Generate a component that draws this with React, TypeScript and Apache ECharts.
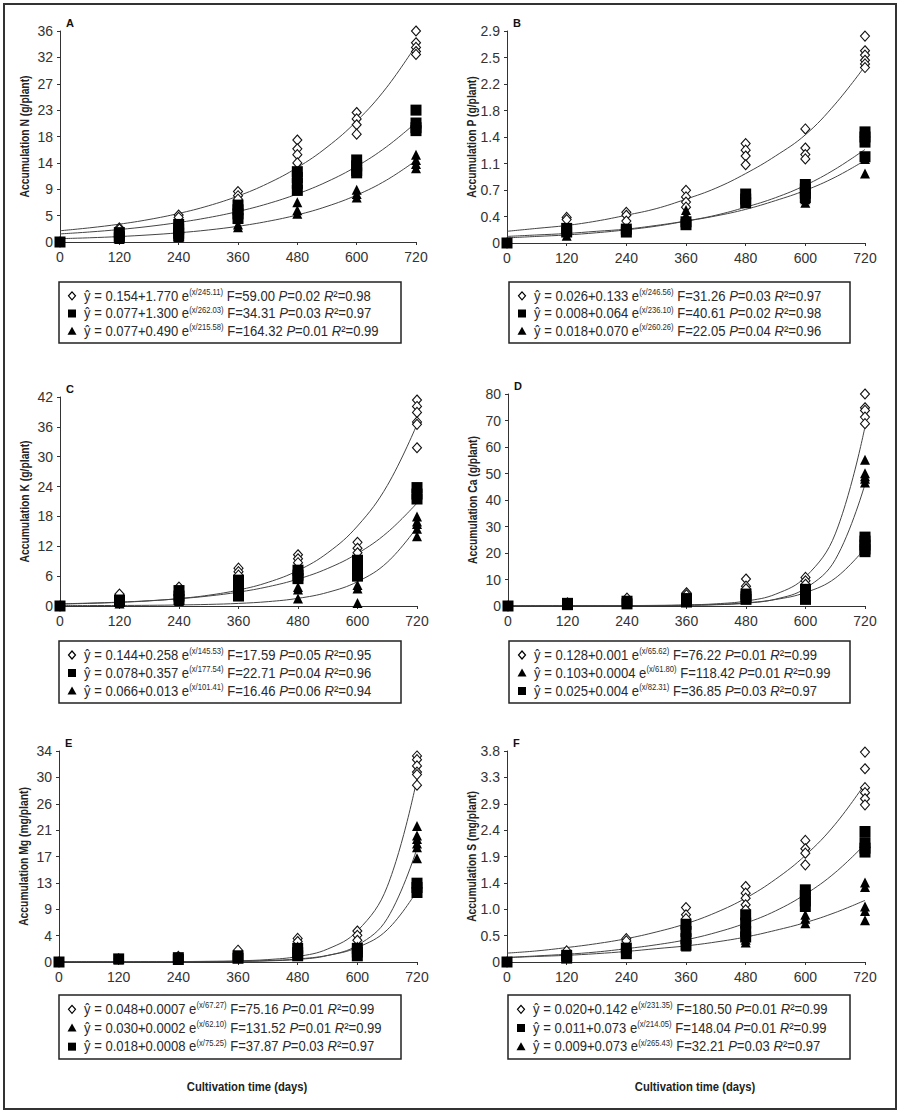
import React, { useEffect, useRef } from 'react';
import * as echarts from 'echarts';

const days = [0, 120, 240, 360, 480, 600, 720];
const fitDays = [0, 60, 120, 180, 240, 300, 360, 420, 480, 540, 600, 660, 720];

// ---- Panel A: N (g/plant)
const aTicks = ['0', '5', '9', '14', '18', '23', '27', '32', '36'];
const aDiamond = [[0], [2.4, 2.2], [4.6, 4.2], [8.6, 7.9, 7.3], [17.4, 15.9, 14.9, 13.5], [22.1, 21, 20, 18.4], [36, 34, 33.2, 32.5, 32]];
const aSquare = [[0], [1.6, 1, 0.7], [3, 2.2, 1.5, 1], [6.3, 5.5, 4.8, 4], [12, 11, 10, 8.8], [14, 13, 12.2, 11.8], [22.5, 20.3, 19.5, 19]];
const aTriangle = [[0], [0.5], [1, 0.8], [3, 2.5], [6.8, 5.4, 4.8], [8.9, 8.2, 7.6], [14.9, 14, 13.3, 12.6]];
const aDiamondFit = [1.92, 2.42, 3.04, 3.84, 4.87, 6.17, 7.84, 9.98, 12.7, 16.18, 20.62, 26.3, 33.55];
const aSquareFit = [1.38, 1.71, 2.13, 2.66, 3.33, 4.16, 5.21, 6.53, 8.2, 10.28, 12.91, 16.22, 20.37];
const aTriangleFit = [0.57, 0.72, 0.93, 1.21, 1.57, 2.05, 2.68, 3.52, 4.62, 6.08, 8.0, 10.54, 13.9];
const aLegend = [
  ['diamond', '0.154+1.770', '245.11', '59.00', '0.02', '0.98'],
  ['square', '0.077+1.300', '262.03', '34.31', '0.03', '0.97'],
  ['triangle', '0.077+0.490', '215.58', '164.32', '0.01', '0.99'],
];

// ---- Panel B: P (g/plant)
const bTicks = ['0', '0.4', '0.7', '1.1', '1.4', '1.8', '2.2', '2.5', '2.9'];
const bDiamond = [[0], [0.35, 0.32], [0.42, 0.38, 0.3], [0.72, 0.63, 0.56, 0.49], [1.36, 1.27, 1.19, 1.07], [1.56, 1.3, 1.21, 1.15], [2.83, 2.63, 2.57, 2.5, 2.45, 2.4]];
const bSquare = [[0], [0.2, 0.15], [0.19, 0.15], [0.29, 0.25], [0.67, 0.6, 0.55], [0.8, 0.74, 0.68, 0.62], [1.52, 1.45, 1.38, 1.18]];
const bTriangle = [[0], [0.1], [0.15], [0.45, 0.38], [0.55], [0.6, 0.55], [1.15, 0.95]];
const bDiamondFit = [0.16, 0.2, 0.24, 0.3, 0.38, 0.47, 0.6, 0.75, 0.95, 1.19, 1.48, 1.9, 2.42];
const bSquareFit = [0.07, 0.09, 0.11, 0.14, 0.18, 0.23, 0.3, 0.38, 0.49, 0.62, 0.79, 1.01, 1.28];
const bTriangleFit = [0.09, 0.11, 0.13, 0.16, 0.19, 0.24, 0.3, 0.37, 0.46, 0.58, 0.72, 0.9, 1.13];
const bLegend = [
  ['diamond', '0.026+0.133', '246.56', '31.26', '0.03', '0.97'],
  ['square', '0.008+0.064', '236.10', '40.61', '0.02', '0.98'],
  ['triangle', '0.018+0.070', '260.26', '22.05', '0.04', '0.96'],
];

// ---- Panel C: K (g/plant)
const cTicks = ['0', '6', '12', '18', '24', '30', '36', '42'];
const cDiamond = [[0], [2.4], [3.8], [7.6, 6.9, 6.2], [10.3, 9.5, 8.7], [12.8, 11.6, 10.7], [41.4, 40.1, 38.9, 37, 36.5, 31.8]];
const cSquare = [[0], [1.2, 0.9], [3.1, 2, 1.3], [5.2, 4.2, 3, 2], [7.2, 6.2, 5.5], [9.2, 8, 6.9, 6], [23.8, 22.5, 21.5]];
const cTriangle = [[0], [0.5], [1], [2.5], [3.8, 3.3, 1.5], [4.2, 3.5, 0.6], [18, 17, 16.5, 15.5, 14]];
const cDiamondFit = [0.4, 0.53, 0.73, 1.03, 1.49, 2.17, 3.21, 4.77, 7.13, 10.69, 16.07, 24.2, 36.48];
const cSquareFit = [0.44, 0.58, 0.78, 1.06, 1.46, 2.01, 2.79, 3.88, 5.41, 7.55, 10.56, 14.77, 20.68];
const cTriangleFit = [0.08, 0.09, 0.11, 0.14, 0.21, 0.32, 0.52, 0.88, 1.54, 2.74, 4.89, 8.78, 15.82];
const cLegend = [
  ['diamond', '0.144+0.258', '145.53', '17.59', '0.05', '0.95'],
  ['square', '0.078+0.357', '177.54', '22.71', '0.04', '0.96'],
  ['triangle', '0.066+0.013', '101.41', '16.46', '0.06', '0.94'],
];

// ---- Panel D: Ca (g/plant)
const dTicks = ['0', '10', '20', '30', '40', '50', '60', '70', '80'];
const dDiamond = [[0], [1.2], [3], [5, 4.2], [10.2, 7.5, 6.5], [10.8, 9.5, 8.2], [80, 74.8, 73.8, 71.3, 68.8]];
const dTriangle = [[0], [0.8], [2], [3], [4.5, 3.5], [6.5, 5.5, 4.5], [55.2, 50.1, 49, 48, 46.6]];
const dSquare = [[0], [1, 0.5], [1.8, 0.8], [2.8, 1.5], [4.5, 3.5, 2.5], [6.3, 5, 3.8, 2.5], [26, 24.5, 23, 21.5, 20.5]];
const dDiamondFit = [0.13, 0.13, 0.14, 0.15, 0.17, 0.24, 0.41, 0.83, 1.87, 4.48, 10.98, 27.2, 67.66];
const dTriangleFit = [0.1, 0.1, 0.11, 0.11, 0.12, 0.15, 0.24, 0.46, 1.05, 2.6, 6.69, 17.48, 45.98];
const dSquareFit = [0.03, 0.03, 0.04, 0.06, 0.09, 0.16, 0.3, 0.59, 1.2, 2.46, 5.08, 10.5, 21.74];
const dLegend = [
  ['diamond', '0.128+0.001', '65.62', '76.22', '0.01', '0.99'],
  ['triangle', '0.103+0.0004', '61.80', '118.42', '0.01', '0.99'],
  ['square', '0.025+0.004', '82.31', '36.85', '0.03', '0.97'],
];

// ---- Panel E: Mg (mg/plant)
const eTicks = ['0', '4', '9', '13', '17', '21', '26', '30', '34'];
const eDiamond = [[0], [0.5], [0.9], [1.9], [3.8, 3.3], [5, 4.3, 3.5], [33.2, 32.6, 31.6, 30.6, 30.2, 28.5]];
const eTriangle = [[0], [0.4], [0.8], [1], [2.5], [2.5, 2], [21.9, 20.4, 19.8, 19.1, 18.5, 16.7]];
const eSquare = [[0], [0.5], [0.7, 0.4], [1, 0.6], [2.2, 1.5, 1.0], [2.2, 1.6, 1], [12.7, 12, 11.2]];
const eDiamondFit = [0.05, 0.05, 0.05, 0.06, 0.07, 0.11, 0.19, 0.39, 0.88, 2.08, 5.0, 12.12, 29.51];
const eTriangleFit = [0.03, 0.03, 0.03, 0.03, 0.04, 0.05, 0.09, 0.18, 0.41, 1.04, 2.68, 6.98, 18.3];
const eSquareFit = [0.02, 0.02, 0.02, 0.03, 0.04, 0.06, 0.11, 0.23, 0.49, 1.06, 2.34, 5.17, 11.46];
const eLegend = [
  ['diamond', '0.048+0.0007', '67.27', '75.16', '0.01', '0.99'],
  ['triangle', '0.030+0.0002', '62.10', '131.52', '0.01', '0.99'],
  ['square', '0.018+0.0008', '75.25', '37.87', '0.03', '0.97'],
];

// ---- Panel F: S (mg/plant)
const fTicks = ['0', '0.5', '1.0', '1.4', '1.9', '2.4', '2.9', '3.3', '3.8'];
const fDiamond = [[0], [0.2], [0.42, 0.38], [0.98, 0.85, 0.78], [1.36, 1.24, 1.15, 1.03, 0.94], [2.19, 2.04, 1.96, 1.75], [3.78, 3.48, 3.14, 3.05, 2.94, 2.83]];
const fSquare = [[0], [0.12, 0.07], [0.25, 0.15], [0.68, 0.55, 0.42, 0.3], [0.85, 0.7, 0.55, 0.45], [1.3, 1.2, 1.1, 1.0], [2.35, 2.15, 2.05, 1.98]];
const fTriangle = [[0], [0.08], [0.15], [0.28], [0.4, 0.35], [0.85, 0.78, 0.7], [1.43, 1.35, 1.0, 0.92, 0.75]];
const fDiamondFit = [0.16, 0.2, 0.26, 0.33, 0.42, 0.54, 0.69, 0.89, 1.15, 1.49, 1.92, 2.48, 3.21];
const fSquareFit = [0.08, 0.11, 0.14, 0.18, 0.24, 0.31, 0.4, 0.53, 0.7, 0.92, 1.22, 1.61, 2.12];
const fTriangleFit = [0.08, 0.1, 0.12, 0.15, 0.19, 0.24, 0.29, 0.36, 0.45, 0.57, 0.71, 0.89, 1.11];
const fLegend = [
  ['diamond', '0.020+0.142', '231.35', '180.50', '0.01', '0.99'],
  ['square', '0.011+0.073', '214.05', '148.04', '0.01', '0.99'],
  ['triangle', '0.009+0.073', '265.43', '32.21', '0.03', '0.97'],
];

const xTitle = 'Cultivation time (days)';

const FONT = "'Liberation Sans', Arial, sans-serif";
const NARROW = 0.86;
const LEG_NARROW = 0.9;

const panels = [
  { letter: 'A', g: [60, 31, 356, 211], yMax: 36, yInt: 4.5, ticks: aTicks, name: 'Accumulation N (g/plant)',
    sets: [['diamond', aDiamond, aDiamondFit], ['triangle', aTriangle, aTriangleFit], ['square', aSquare, aSquareFit]],
    box: [59, 282, 342, 61], legend: aLegend },
  { letter: 'B', g: [507, 31, 358, 212], yMax: 2.9, yInt: 0.3625, ticks: bTicks, name: 'Accumulation P (g/plant)',
    sets: [['diamond', bDiamond, bDiamondFit], ['triangle', bTriangle, bTriangleFit], ['square', bSquare, bSquareFit]],
    box: [509, 282, 341, 61], legend: bLegend },
  { letter: 'C', g: [60, 397, 357, 209], yMax: 42, yInt: 6, ticks: cTicks, name: 'Accumulation K (g/plant)',
    sets: [['diamond', cDiamond, cDiamondFit], ['triangle', cTriangle, cTriangleFit], ['square', cSquare, cSquareFit]],
    box: [59, 641, 342, 62], legend: cLegend },
  { letter: 'D', g: [508, 394, 357, 212], yMax: 80, yInt: 10, ticks: dTicks, name: 'Accumulation Ca (g/plant)',
    sets: [['diamond', dDiamond, dDiamondFit], ['triangle', dTriangle, dTriangleFit], ['square', dSquare, dSquareFit]],
    box: [509, 641, 341, 62], legend: dLegend },
  { letter: 'E', g: [59, 751, 358, 211], yMax: 34, yInt: 4.25, ticks: eTicks, name: 'Accumulation Mg (mg/plant)',
    sets: [['diamond', eDiamond, eDiamondFit], ['triangle', eTriangle, eTriangleFit], ['square', eSquare, eSquareFit]],
    box: [59, 995, 342, 64], legend: eLegend },
  { letter: 'F', g: [507, 751, 358, 211], yMax: 3.8, yInt: 0.475, ticks: fTicks, name: 'Accumulation S (mg/plant)',
    sets: [['diamond', fDiamond, fDiamondFit], ['triangle', fTriangle, fTriangleFit], ['square', fSquare, fSquareFit]],
    box: [508, 995, 342, 64], legend: fLegend },
];

const symbolStyle: any = {
  diamond: { symbol: 'diamond', size: [9, 10], item: { color: '#fff', borderColor: '#111', borderWidth: 1.1, opacity: 1 } },
  triangle: { symbol: 'triangle', size: 10, item: { color: '#000', opacity: 1 } },
  square: { symbol: 'rect', size: 11, item: { color: '#000', opacity: 1 } },
};

function legendMarker(kind: string, cx: number, cy: number) {
  if (kind === 'diamond') {
    return { type: 'polygon', shape: { points: [[cx, cy - 4], [cx + 3.5, cy], [cx, cy + 4], [cx - 3.5, cy]] }, style: { fill: '#fff', stroke: '#000', lineWidth: 1.2 } };
  }
  if (kind === 'square') {
    return { type: 'rect', shape: { x: cx - 4, y: cy - 4, width: 8, height: 8 }, style: { fill: '#000' } };
  }
  return { type: 'polygon', shape: { points: [[cx, cy - 4.5], [cx + 4.5, cy + 3.5], [cx - 4.5, cy + 3.5]] }, style: { fill: '#000' } };
}

function buildOption() {
  const grid: any[] = [];
  const xAxis: any[] = [];
  const yAxis: any[] = [];
  const series: any[] = [];
  const graphic: any[] = [];

  graphic.push({ type: 'rect', shape: { x: 4, y: 4, width: 892, height: 1105 }, style: { fill: 'none', stroke: '#333', lineWidth: 2 }, z: 0 });

  panels.forEach((p, i) => {
    const [left, top, width, height] = p.g;
    grid.push({ left, top, width, height, containLabel: false });
    xAxis.push({
      type: 'value', gridIndex: i, min: 0, max: 720, interval: 120,
      axisLine: { show: true, onZero: false, lineStyle: { color: '#333', width: 1 } },
      axisTick: { show: true, length: 3, lineStyle: { color: '#333' } },
      splitLine: { show: false },
      axisLabel: { fontSize: 14, color: '#333', fontFamily: FONT, margin: 8 },
    });
    yAxis.push({
      type: 'value', gridIndex: i, min: 0, max: p.yMax, interval: p.yInt,
      axisLine: { show: true, onZero: false, lineStyle: { color: '#333', width: 1 } },
      axisTick: { show: true, length: 3, lineStyle: { color: '#333' } },
      splitLine: { show: false },
      axisLabel: {
        fontSize: 14, color: '#333', fontFamily: FONT, margin: 7,
        formatter: (v: number) => { const k = Math.round(v / p.yInt); return p.ticks[k] ?? ''; },
      },
    });

    p.sets.forEach((s: any) => {
      const fit = s[2] as number[];
      series.push({
        type: 'line', xAxisIndex: i, yAxisIndex: i, smooth: 0.4, showSymbol: false, silent: true,
        data: fitDays.map((d, k) => [d, fit[k]]),
        lineStyle: { color: '#444', width: 1 }, z: 1,
      });
    });
    p.sets.forEach((s: any) => {
      const st = symbolStyle[s[0]];
      const pts: number[][] = [];
      (s[1] as number[][]).forEach((reps, k) => reps.forEach((v) => pts.push([days[k], v])));
      series.push({
        type: 'scatter', xAxisIndex: i, yAxisIndex: i, symbol: st.symbol, symbolSize: st.size,
        data: pts, itemStyle: st.item, silent: true, z: 3,
      });
    });

    graphic.push({
      type: 'text', x: left - 35, y: top + height / 2, rotation: Math.PI / 2, scaleX: NARROW,
      style: { text: p.name, fontSize: 12, fontWeight: 'bold', fontFamily: FONT, fill: '#222', textAlign: 'center', textVerticalAlign: 'middle' },
    });

    graphic.push({ type: 'text', x: left + 6, y: top - 8, style: { text: p.letter, fontSize: 11, fontWeight: 'bold', fontFamily: FONT, fill: '#111', textAlign: 'left', textVerticalAlign: 'middle' } });

    const [bx, by, bw, bh] = p.box;
    graphic.push({ type: 'rect', shape: { x: bx, y: by, width: bw, height: bh }, style: { fill: '#fff', stroke: '#222', lineWidth: 1.5 } });
    const step = (bh - 8) / 3;
    p.legend.forEach((row: string[], r: number) => {
      const cy = by + 4 + step * (r + 0.5) + 1;
      graphic.push(legendMarker(row[0], bx + 13, cy));
      graphic.push({
        type: 'text', x: bx + 25, y: cy, scaleX: LEG_NARROW,
        style: {
          text: `{t|ŷ = ${row[1]} e}{s|(x/${row[2]})}{t| F=${row[3]} }{i|P}{t|=${row[4]} }{i|R}{t|²=${row[5]}}`,
          textAlign: 'left', textVerticalAlign: 'middle',
          rich: {
            t: { fontSize: 14.5, fontFamily: FONT, fill: '#2a2a2a', lineHeight: 16 },
            i: { fontSize: 14.5, fontFamily: FONT, fontStyle: 'italic', fill: '#2a2a2a', lineHeight: 16 },
            s: { fontSize: 8.5, fontFamily: FONT, fill: '#2a2a2a', verticalAlign: 'top', lineHeight: 10 },
          },
        },
      });
    });
  });

  graphic.push({ type: 'text', x: 247, y: 1087, scaleX: 0.9, style: { text: xTitle, fontSize: 12.5, fontWeight: 'bold', fontFamily: FONT, fill: '#222', textAlign: 'center', textVerticalAlign: 'middle' } });
  graphic.push({ type: 'text', x: 695, y: 1087, scaleX: 0.9, style: { text: xTitle, fontSize: 12.5, fontWeight: 'bold', fontFamily: FONT, fill: '#222', textAlign: 'center', textVerticalAlign: 'middle' } });

  return { animation: false, backgroundColor: '#fff', grid, xAxis, yAxis, series, graphic };
}

export default function App() {
  const ref = useRef<HTMLDivElement>(null);
  useEffect(() => {
    document.body.style.margin = '0';
    if (!ref.current) return;
    const chart = echarts.init(ref.current, undefined, { renderer: 'svg' });
    chart.setOption(buildOption() as any);
    return () => chart.dispose();
  }, []);
  return <div ref={ref} style={{ width: 902, height: 1115, overflow: 'hidden' }} />;
}
